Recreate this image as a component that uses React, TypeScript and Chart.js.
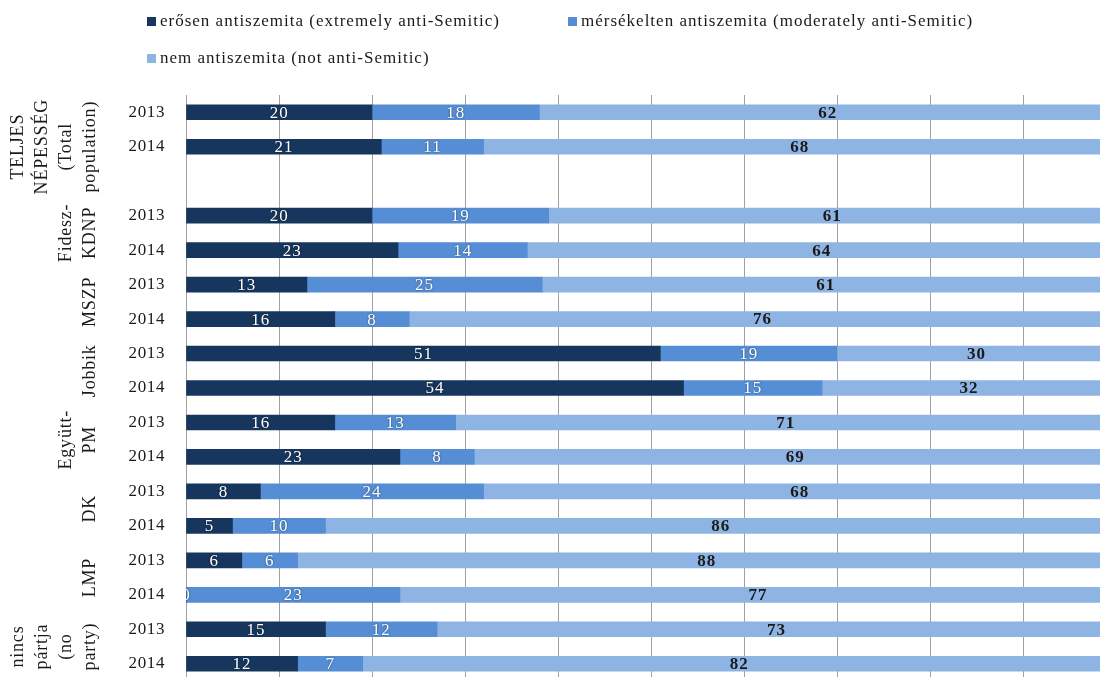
import React, { useEffect, useRef } from "react";
import Chart from "chart.js/auto";

const yearLabels = ["2013", "2014", "", "2013", "2014", "2013", "2014", "2013", "2014", "2013", "2014", "2013", "2014", "2013", "2014", "2013", "2014"];
const extremeValues = [20, 21, null, 20, 22.8, 13, 16, 51, 53.5, 16, 23, 8, 5, 6, 0, 15, 12];
const moderateValues = [18, 11, null, 19, 13.9, 25.3, 8, 19, 14.9, 13, 8, 24, 10, 6, 23, 12, 7];
const notValues = [62, 68, null, 61, 64, 61, 76, 30, 32, 71, 69, 68, 86, 88, 77, 73, 82];
const seriesNames = [
  "erősen antiszemita (extremely anti-Semitic)",
  "mérsékelten antiszemita (moderately anti-Semitic)",
  "nem antiszemita (not anti-Semitic)",
];
const groupNames = [
  ["TELJES", "NÉPESSÉG", "(Total", "population)"],
  ["Fidesz-", "KDNP"],
  ["MSZP"],
  ["Jobbik"],
  ["Együtt-", "PM"],
  ["DK"],
  ["LMP"],
  ["nincs", "pártja", "(no", "party)"],
];
const groupSpans = [
  [0, 2], [3, 4], [5, 6], [7, 8], [9, 10], [11, 12], [13, 14], [15, 16],
];

const COLORS = ["#17365d", "#558ed5", "#8eb4e3"];
const FONT = "'Liberation Serif', 'DejaVu Serif', serif";

const overlayPlugin = {
  id: "overlay",
  beforeDraw(chart: any) {
    (chart.ctx as any).letterSpacing = "0.6px";
  },
  afterDatasetsDraw(chart: any) {
    const ctx = chart.ctx;
    const area = chart.chartArea;
    ctx.save();
    ctx.beginPath();
    ctx.rect(area.left, area.top, area.right - area.left, area.bottom - area.top);
    ctx.clip();
    ctx.textAlign = "center";
    ctx.textBaseline = "middle";
    chart.data.datasets.forEach((ds: any, di: number) => {
      const meta = chart.getDatasetMeta(di);
      meta.data.forEach((el: any, i: number) => {
        const v = ds.data[i];
        if (v === null || v === undefined) return;
        const a = Math.max(area.left, Math.min(el.base, el.x));
        const b = Math.min(area.right, Math.max(el.base, el.x));
        const cx = (a + b) / 2;
        ctx.save();
        if (di < 2) {
          ctx.font = `17px ${FONT}`;
          ctx.fillStyle = "#ffffff";
          ctx.shadowColor = "rgba(0,0,0,0.55)";
          ctx.shadowBlur = 2;
        } else {
          ctx.font = `bold 17px ${FONT}`;
          ctx.fillStyle = "#1a1a1a";
        }
        (ctx as any).letterSpacing = "1px";
        ctx.fillText(String(Math.round(v)), cx, el.y + 1);
        ctx.restore();
      });
    });
    ctx.restore();
  },
  afterDraw(chart: any) {
    const ctx = chart.ctx;
    const yScale = chart.scales.y;
    ctx.save();
    // legend
    ctx.font = `17px ${FONT}`;
    (ctx as any).letterSpacing = "1px";
    ctx.textBaseline = "middle";
    ctx.textAlign = "left";
    const legendPos = [
      [139, 13],
      [560, 13],
      [139, 50],
    ];
    seriesNames.forEach((name, i) => {
      const [x, y] = legendPos[i];
      ctx.fillStyle = COLORS[i];
      ctx.fillRect(x, y - 4, 9, 9);
      ctx.fillStyle = "#1a1a1a";
      ctx.fillText(name, x + 13, y + 1);
    });
    // group labels
    ctx.font = `18px ${FONT}`;
    (ctx as any).letterSpacing = "0.8px";
    ctx.textAlign = "center";
    groupNames.forEach((lines, gi) => {
      const [s, e] = groupSpans[gi];
      const cy = (yScale.getPixelForValue(s) + yScale.getPixelForValue(e)) / 2;
      const n = lines.length;
      lines.forEach((line, li) => {
        const cx = 82 - (n - 1 - li) * 24;
        ctx.save();
        ctx.translate(cx, cy);
        ctx.rotate(-Math.PI / 2);
        ctx.fillStyle = "#1a1a1a";
        ctx.fillText(line, 0, 0);
        ctx.restore();
      });
    });
    ctx.restore();
  },
};

export default function App() {
  const ref = useRef<HTMLCanvasElement>(null);
  useEffect(() => {
    document.documentElement.style.overflow = "hidden";
    document.body.style.overflow = "hidden";
    const chart = new Chart(ref.current as HTMLCanvasElement, {
      type: "bar",
      data: {
        labels: yearLabels,
        datasets: [extremeValues, moderateValues, notValues].map((d, i) => ({
          label: seriesNames[i],
          data: d,
          backgroundColor: COLORS[i],
          borderWidth: 0,
          barThickness: 15,
        })),
      },
      options: {
        responsive: false,
        animation: false,
        devicePixelRatio: 1,
        indexAxis: "y",
        layout: { padding: { top: 87, right: 4, bottom: 37, left: 0 } },
        plugins: { legend: { display: false }, tooltip: { enabled: false } },
        scales: {
          x: {
            stacked: true,
            min: 0,
            max: 100,
            ticks: { display: false, stepSize: 10 },
            grid: { color: "#a0a0a0", lineWidth: 1, drawTicks: false },
            border: { display: false },
            afterFit: (s: any) => {
              s.height = 0;
            },
          },
          y: {
            stacked: true,
            grid: { display: false, drawTicks: false },
            border: { display: true, color: "#a0a0a0", width: 1 },
            ticks: {
              autoSkip: false,
              padding: 21,
              color: "#1a1a1a",
              font: { family: FONT, size: 17 },
            },
            afterFit: (s: any) => {
              s.width = 178;
            },
          },
        },
      },
      plugins: [overlayPlugin],
    } as any);
    return () => chart.destroy();
  }, []);
  return (
    <div style={{ width: 1100, height: 669, overflow: "hidden", background: "#fff" }}>
      <canvas ref={ref} width={1112} height={710} style={{ display: "block" }} />
    </div>
  );
}
